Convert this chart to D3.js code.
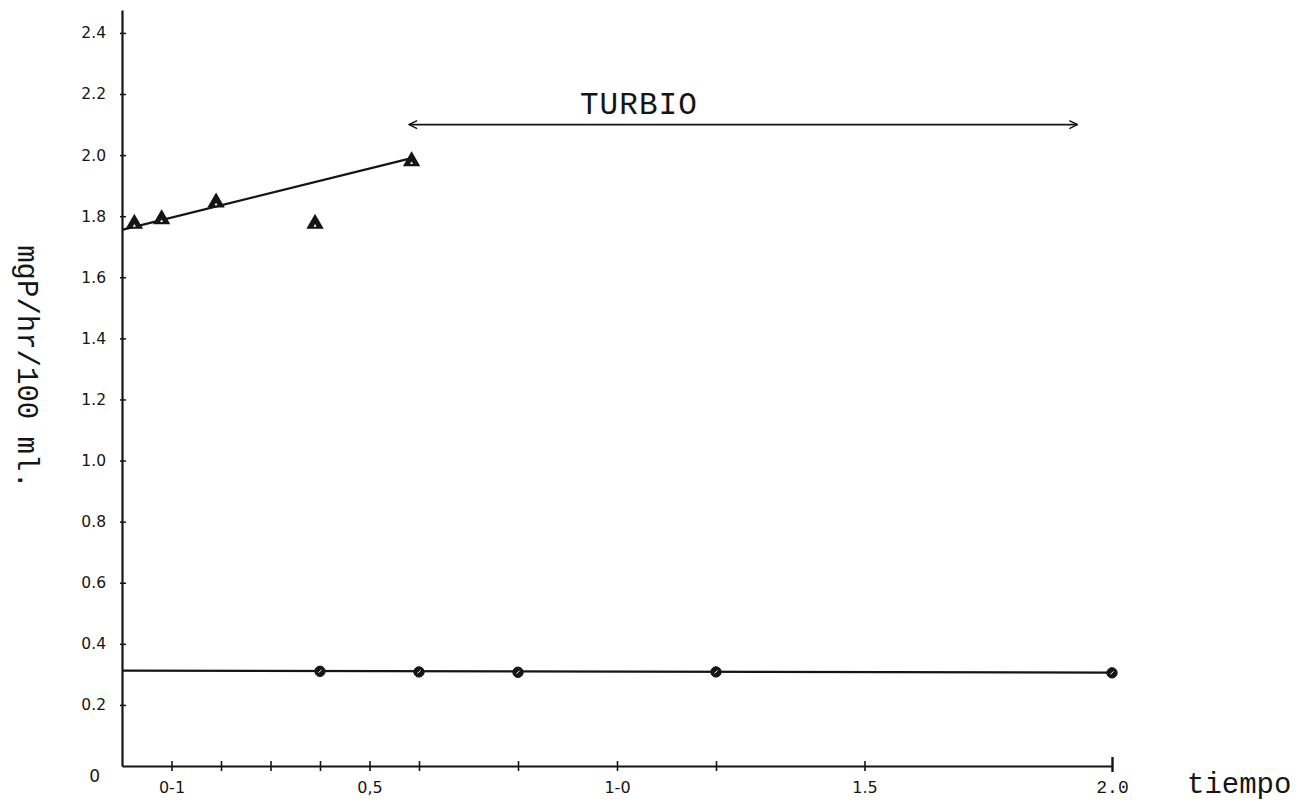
<!DOCTYPE html>
<html>
<head>
<meta charset="utf-8">
<script src="https://cdn.jsdelivr.net/npm/d3@7"></script>
<style>
  html, body { margin: 0; padding: 0; background: #ffffff; }
  svg { display: block; }
</style>
</head>
<body>
<svg id="chart" width="1296" height="804"></svg>
<script>
// ---- data ----
const triangleX = [0.025, 0.08, 0.19, 0.39, 0.585];
const triangleY = [1.775, 1.79, 1.845, 1.775, 1.98];
const circleX = [0.4, 0.6, 0.8, 1.2, 2.0];
const circleY = [0.31, 0.308, 0.307, 0.308, 0.305];
const trendTriX = [0.0, 0.585];
const trendTriY = [1.755, 1.99];
const trendCirX = [0.0, 2.0];
const trendCirY = [0.312, 0.306];
const xTickValues = [0.1, 0.2, 0.3, 0.4, 0.5, 0.6, 0.8, 1.0, 1.2, 1.5, 2.0];
const xLabelValues = [0.1, 0.5, 1.0, 1.5, 2.0];
const xLabelTexts = ["0-1", "0,5", "1-0", "1.5", "2.0"];
const yTickValues = [0, 0.2, 0.4, 0.6, 0.8, 1.0, 1.2, 1.4, 1.6, 1.8, 2.0, 2.2, 2.4];
const yLabelTexts = ["0", "0.2", "0.4", "0.6", "0.8", "1.0", "1.2", "1.4", "1.6", "1.8", "2.0", "2.2", "2.4"];
const turbioRange = [0.58, 1.93];
const turbioLevel = 2.1;
const turbioText = "TURBIO";
const xTitle = "tiempo";
const yTitle = "mgP/hr/100 ml.";

// ---- drawing ----
const svg = d3.select("#chart");
const ink = "#151515";
const x = d3.scaleLinear().domain([0, 2]).range([122, 1112]);
const y = d3.scaleLinear().domain([0, 2.475]).range([766, 10]);

const xLabelMap = new Map(xLabelValues.map((v, i) => [v, xLabelTexts[i]]));
const yLabelMap = new Map(yTickValues.map((v, i) => [v, yLabelTexts[i]]));

// x axis
const gx = svg.append("g")
  .attr("transform", `translate(0,${y(0)})`)
  .call(d3.axisBottom(x).tickValues(xTickValues)
    .tickSizeOuter(0)
    .tickFormat(d => xLabelMap.get(d) || ""));
gx.select(".domain").attr("stroke", ink).attr("stroke-width", 2.2);
gx.selectAll(".tick line").attr("stroke", ink).attr("stroke-width", 1.6)
  .attr("y1", -5).attr("y2", 5);
gx.selectAll(".tick").filter(d => d === 2.0).select("line")
  .attr("y1", -9).attr("y2", 6).attr("stroke-width", 2.4);
gx.selectAll(".tick text")
  .attr("y", 27).attr("dy", 0)
  .attr("fill", ink)
  .style("font-family", "'DejaVu Sans', sans-serif")
  .style("font-size", "16px");
gx.selectAll(".tick").filter(d => d === 2.0).select("text")
  .style("font-family", "'Liberation Mono', monospace").style("font-size", "18px");

// y axis
const gy = svg.append("g")
  .attr("transform", `translate(${x(0)},0)`)
  .call(d3.axisLeft(y).tickValues(yTickValues)
    .tickSizeOuter(0)
    .tickFormat(d => yLabelMap.get(d) ?? ""));
gy.select(".domain").attr("stroke", ink).attr("stroke-width", 2.2);
gy.selectAll(".tick line").attr("stroke", ink).attr("stroke-width", 1.5)
  .attr("x1", -2).attr("x2", 4);
gy.selectAll(".tick").filter(d => d === 0).select("line").remove();
gy.selectAll(".tick text")
  .attr("x", -16)
  .attr("fill", ink)
  .style("font-family", "'DejaVu Sans', sans-serif")
  .style("font-size", "15.5px");
gy.selectAll(".tick").filter(d => d === 0).select("text")
  .attr("x", -22).attr("dy", "0.9em").style("font-size", "17px");

// trend lines
const line = d3.line().x(d => x(d[0])).y(d => y(d[1]));
svg.append("path")
  .datum(d3.zip(trendTriX, trendTriY))
  .attr("d", line).attr("fill", "none")
  .attr("stroke", ink).attr("stroke-width", 2.2);
svg.append("path")
  .datum(d3.zip(trendCirX, trendCirY))
  .attr("d", line).attr("fill", "none")
  .attr("stroke", ink).attr("stroke-width", 2.2);

// triangle markers
const tri = d3.symbol().type(d3.symbolTriangle).size(95);
svg.append("g").selectAll("path")
  .data(d3.zip(triangleX, triangleY))
  .join("path")
  .attr("transform", d => `translate(${x(d[0])},${y(d[1])})`)
  .attr("d", tri)
  .attr("fill", ink).attr("stroke", ink).attr("stroke-width", 1.5);
svg.append("g").selectAll("path")
  .data(d3.zip(triangleX, triangleY))
  .join("path")
  .attr("transform", d => `translate(${x(d[0])},${y(d[1]) + 2})`)
  .attr("d", d3.symbol().type(d3.symbolTriangle).size(4))
  .attr("fill", "#ffffff");

// circle markers
svg.append("g").selectAll("circle")
  .data(d3.zip(circleX, circleY))
  .join("circle")
  .attr("cx", d => x(d[0])).attr("cy", d => y(d[1]))
  .attr("r", 5.2)
  .attr("fill", ink).attr("stroke", ink).attr("stroke-width", 1);
svg.append("g").selectAll("line")
  .data(d3.zip(circleX, circleY))
  .join("line")
  .attr("x1", d => x(d[0]) - 1.5).attr("y1", d => y(d[1]) + 1.5)
  .attr("x2", d => x(d[0]) + 1.5).attr("y2", d => y(d[1]) - 1.5)
  .attr("stroke", "#ffffff").attr("stroke-width", 1);

// TURBIO arrow
const defs = svg.append("defs");
["start", "end"].forEach(k => {
  defs.append("marker")
    .attr("id", "arr-" + k)
    .attr("viewBox", "0 0 12 12")
    .attr("refX", k === "end" ? 11 : 1).attr("refY", 6)
    .attr("markerWidth", 12).attr("markerHeight", 12)
    .attr("markerUnits", "userSpaceOnUse")
    .attr("orient", "auto")
    .append("path")
    .attr("d", k === "end" ? "M3,2 L11,6 L3,10" : "M9,2 L1,6 L9,10")
    .attr("fill", "none").attr("stroke", ink).attr("stroke-width", 1.4);
});
svg.append("line")
  .attr("x1", x(turbioRange[0])).attr("x2", x(turbioRange[1]))
  .attr("y1", y(turbioLevel)).attr("y2", y(turbioLevel))
  .attr("stroke", ink).attr("stroke-width", 1.8)
  .attr("marker-start", "url(#arr-start)")
  .attr("marker-end", "url(#arr-end)");
svg.append("text")
  .attr("x", x(0.925)).attr("y", y(turbioLevel) - 11)
  .attr("fill", ink)
  .style("font-family", "'Liberation Mono', monospace")
  .style("font-size", "31px")
  .attr("textLength", 117)
  .text(turbioText);

// axis titles
svg.append("text")
  .attr("x", 1187).attr("y", 793)
  .attr("fill", ink)
  .style("font-family", "'Liberation Mono', monospace")
  .style("font-size", "29px")
  .text(xTitle);
svg.append("text")
  .attr("transform", `translate(18,367) rotate(90)`)
  .attr("text-anchor", "middle")
  .attr("fill", ink)
  .style("font-family", "'Liberation Mono', monospace")
  .style("font-size", "29px")
  .text(yTitle);
</script>
</body>
</html>
